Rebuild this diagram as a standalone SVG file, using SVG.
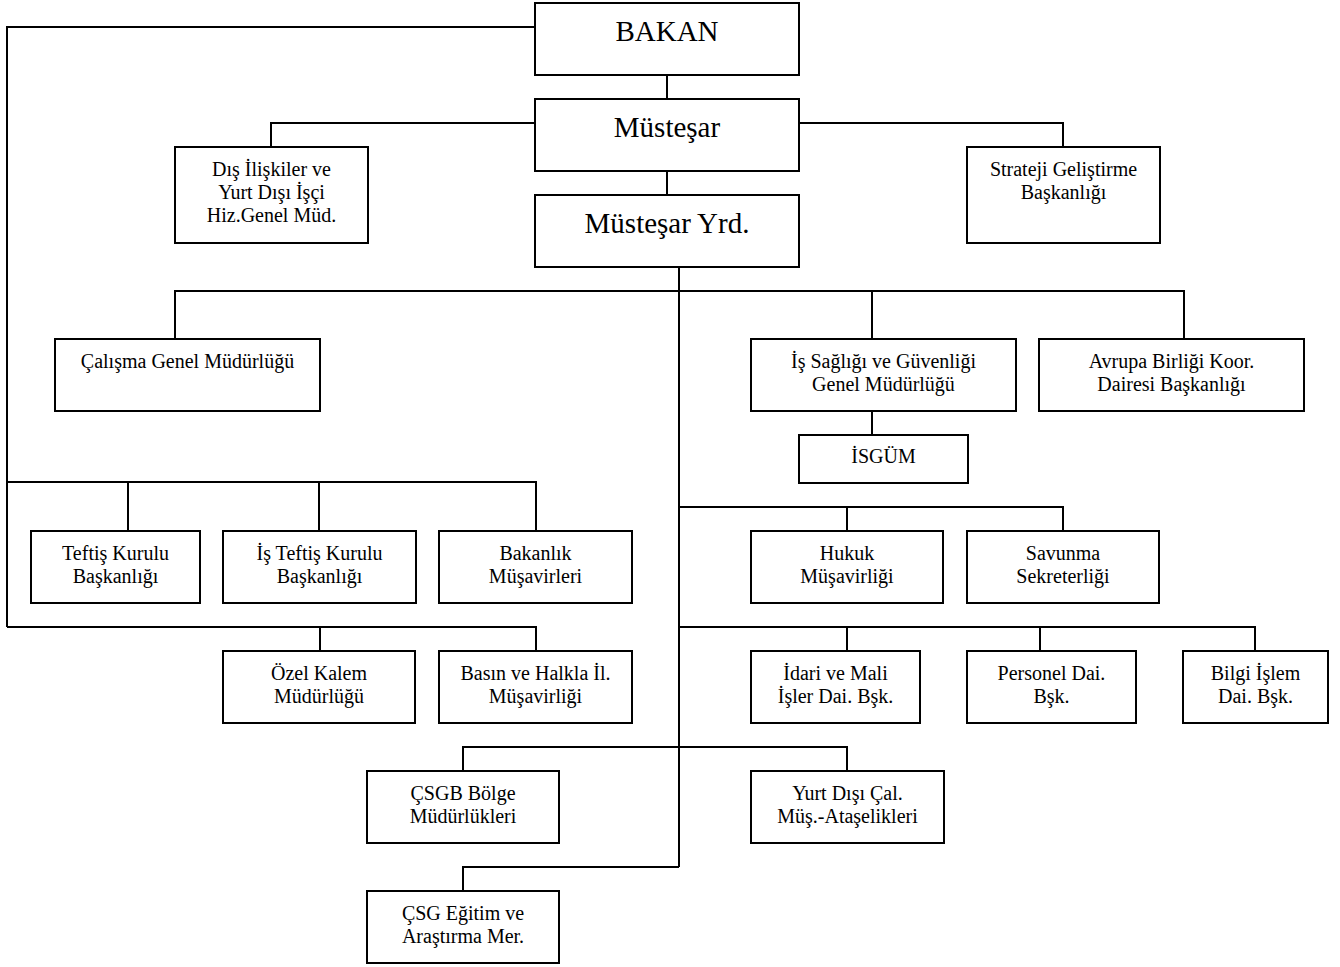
<svg xmlns="http://www.w3.org/2000/svg" width="1340" height="967" viewBox="0 0 1340 967">
<style>
.box{fill:#fff;stroke:#000;stroke-width:2}
.ln{fill:none;stroke:#000;stroke-width:2}
text{font-family:"Liberation Serif","Times New Roman",serif;font-size:20px;text-anchor:middle;fill:#000}
.big{font-size:29px}
</style>
<rect width="1340" height="967" fill="#fff"/>
<g id="connectors" class="ln">
<path d="M535 27H7V627"/>
<path d="M667 75V99M667 171V195"/>
<path d="M535 123H271V147M799 123H1063V147"/>
<path d="M679 267V867"/>
<path d="M175 339V291H1184V339M872 291V339M872 411V435"/>
<path d="M7 482H536V531M128 482V531M319 482V531"/>
<path d="M7 627H536V651M320 627V651"/>
<path d="M679 507H1063V531M847 507V531"/>
<path d="M679 627H1255V651M847 627V651M1040 627V651"/>
<path d="M463 771V747H847V771"/>
<path d="M679 867H463V891"/>
</g>
<g id="bakan"><rect class="box" x="535" y="3" width="264" height="72"/><text class="big" x="667" y="41">BAKAN</text></g>
<g id="mustesar"><rect class="box" x="535" y="99" width="264" height="72"/><text class="big" x="667" y="137">Müsteşar</text></g>
<g id="mustesar-yrd"><rect class="box" x="535" y="195" width="264" height="72"/><text class="big" x="667" y="233">Müsteşar Yrd.</text></g>
<g id="dis-iliskiler"><rect class="box" x="175" y="147" width="193" height="96"/><text x="271.5" y="176">Dış İlişkiler ve</text><text x="271.5" y="199">Yurt Dışı İşçi</text><text x="271.5" y="222">Hiz.Genel Müd.</text></g>
<g id="strateji"><rect class="box" x="967" y="147" width="193" height="96"/><text x="1063.5" y="176">Strateji Geliştirme</text><text x="1063.5" y="199">Başkanlığı</text></g>
<g id="calisma"><rect class="box" x="55" y="339" width="265" height="72"/><text x="187.5" y="368">Çalışma Genel Müdürlüğü</text></g>
<g id="is-sagligi"><rect class="box" x="751" y="339" width="265" height="72"/><text x="883.5" y="368">İş Sağlığı ve Güvenliği</text><text x="883.5" y="391">Genel Müdürlüğü</text></g>
<g id="avrupa"><rect class="box" x="1039" y="339" width="265" height="72"/><text x="1171.5" y="368">Avrupa Birliği Koor.</text><text x="1171.5" y="391">Dairesi Başkanlığı</text></g>
<g id="isgum"><rect class="box" x="799" y="435" width="169" height="48"/><text x="883.5" y="463">İSGÜM</text></g>
<g id="teftis"><rect class="box" x="31" y="531" width="169" height="72"/><text x="115.5" y="560">Teftiş Kurulu</text><text x="115.5" y="583">Başkanlığı</text></g>
<g id="is-teftis"><rect class="box" x="223" y="531" width="193" height="72"/><text x="319.5" y="560">İş Teftiş Kurulu</text><text x="319.5" y="583">Başkanlığı</text></g>
<g id="bakanlik-musavirleri"><rect class="box" x="439" y="531" width="193" height="72"/><text x="535.5" y="560">Bakanlık</text><text x="535.5" y="583">Müşavirleri</text></g>
<g id="hukuk"><rect class="box" x="751" y="531" width="192" height="72"/><text x="847" y="560">Hukuk</text><text x="847" y="583">Müşavirliği</text></g>
<g id="savunma"><rect class="box" x="967" y="531" width="192" height="72"/><text x="1063" y="560">Savunma</text><text x="1063" y="583">Sekreterliği</text></g>
<g id="ozel-kalem"><rect class="box" x="223" y="651" width="192" height="72"/><text x="319" y="680">Özel Kalem</text><text x="319" y="703">Müdürlüğü</text></g>
<g id="basin"><rect class="box" x="439" y="651" width="193" height="72"/><text x="535.5" y="680">Basın ve Halkla İl.</text><text x="535.5" y="703">Müşavirliği</text></g>
<g id="idari"><rect class="box" x="751" y="651" width="169" height="72"/><text x="835.5" y="680">İdari ve Mali</text><text x="835.5" y="703">İşler Dai. Bşk.</text></g>
<g id="personel"><rect class="box" x="967" y="651" width="169" height="72"/><text x="1051.5" y="680">Personel Dai.</text><text x="1051.5" y="703">Bşk.</text></g>
<g id="bilgi-islem"><rect class="box" x="1183" y="651" width="145" height="72"/><text x="1255.5" y="680">Bilgi İşlem</text><text x="1255.5" y="703">Dai. Bşk.</text></g>
<g id="csgb-bolge"><rect class="box" x="367" y="771" width="192" height="72"/><text x="463" y="800">ÇSGB Bölge</text><text x="463" y="823">Müdürlükleri</text></g>
<g id="yurt-disi-cal"><rect class="box" x="751" y="771" width="193" height="72"/><text x="847.5" y="800">Yurt Dışı Çal.</text><text x="847.5" y="823">Müş.-Ataşelikleri</text></g>
<g id="csg-egitim"><rect class="box" x="367" y="891" width="192" height="72"/><text x="463" y="920">ÇSG Eğitim ve</text><text x="463" y="943">Araştırma Mer.</text></g>
</svg>
